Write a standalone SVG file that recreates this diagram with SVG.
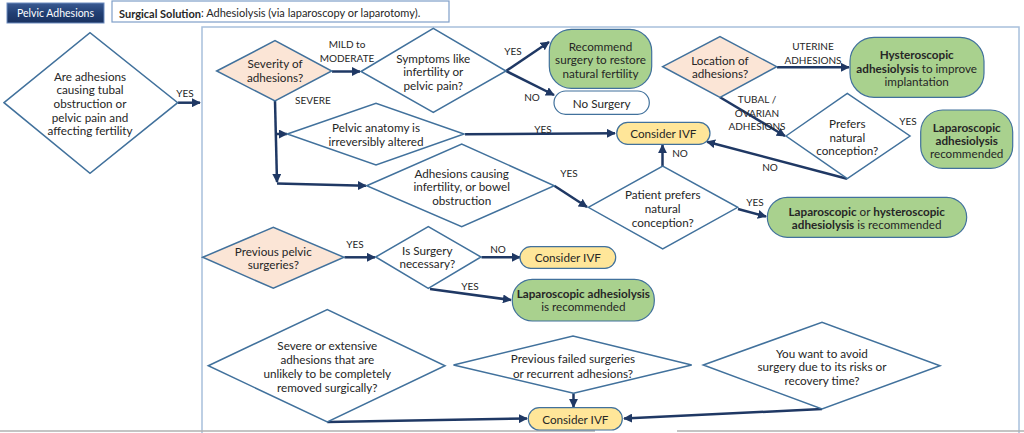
<svg xmlns="http://www.w3.org/2000/svg" width="1024" height="433" viewBox="0 0 1024 433">
<defs>
<marker id="ah" viewBox="0 0 10 10" refX="9" refY="5" markerWidth="3.6" markerHeight="3.6" orient="auto" markerUnits="strokeWidth">
<path d="M0,0 L10,5 L0,10 z" fill="#1f3864"/>
</marker>
<linearGradient id="hdr" x1="0" y1="0" x2="0" y2="1">
<stop offset="0" stop-color="#3a5a92"/>
<stop offset="0.5" stop-color="#223f73"/>
<stop offset="1" stop-color="#1a3260"/>
</linearGradient>
</defs>
<style>
text{font-family:Lato,"Liberation Sans",sans-serif;fill:#262626;}
.t{font-size:11.7px;text-anchor:middle;dominant-baseline:central;}
.l{font-size:10px;text-anchor:middle;dominant-baseline:central;}
.b{font-weight:bold;}
.dia{fill:#ffffff;stroke:#41719c;stroke-width:1.5;}
.pea{fill:#fbe5d6;stroke:#41719c;stroke-width:1.5;}
.grn{fill:#a9d18e;stroke:#41719c;stroke-width:1.2;}
.yel{fill:#ffe699;stroke:#41719c;stroke-width:1.2;}
.wht{fill:#ffffff;stroke:#41719c;stroke-width:1.2;}
.c{fill:none;stroke:#1f3864;stroke-width:2.5;marker-end:url(#ah);}
</style>
<rect width="1024" height="433" fill="#ffffff"/>

<!-- frame -->
<g id="frame">
<rect x="202" y="27" width="817" height="420" fill="none" stroke="#a8c0dc" stroke-width="1.5"/>
<line x1="0" y1="431" x2="595" y2="431" stroke="#b0b0b0" stroke-width="1.5"/>
<line x1="677" y1="431" x2="1024" y2="431" stroke="#b0b0b0" stroke-width="1.5"/>
</g>

<g id="title">
<rect x="7" y="3" width="97" height="20" fill="url(#hdr)" stroke="#6d8cc0" stroke-width="1"/>
<text x="55.5" y="12.5" class="t" style="fill:#ffffff;font-size:10.5px">Pelvic Adhesions</text>
</g>
<g id="surgical">
<rect x="112" y="1" width="337" height="21" fill="#ffffff" stroke="#7f9fc9" stroke-width="1.2"/>
<text x="119" y="12.5" style="font-size:11px;dominant-baseline:central"><tspan class="b">Surgical Solution</tspan>: Adhesiolysis (via laparoscopy or laparotomy).</text>
</g>

<g id="connectors">
<path class="c" d="M178,102.7 L200,102.7"/>
<path class="c" d="M332,71.5 L360,71.5"/>
<path class="c" d="M506,71 L549,42"/>
<path class="c" d="M506,71 L554,95"/>
<path class="c" d="M275,101 L277,182"/>
<path class="c" d="M277,183.5 L366,185.7"/>
<path class="c" d="M276.5,134 L287,134"/>
<path class="c" d="M465,134.3 L615,133.3"/>
<path class="c" d="M554.3,185.7 L587,207"/>
<path class="c" d="M662.5,166 L662.5,145"/>
<path class="c" d="M738,209 L766,216.5"/>
<path class="c" d="M777,67.3 L849,67.3"/>
<path class="c" d="M720,97.3 L785,136"/>
<path class="c" d="M847,178.7 L707,141.7"/>
<path class="c" d="M344.5,257.3 L375,257.3"/>
<path class="c" d="M481.5,257.3 L520,257.3"/>
<path class="c" d="M430,289 L511,300"/>
<path class="c" d="M573.5,393.3 L573.5,407"/>
<path class="c" d="M327.3,422 L527,418.5"/>
<path class="c" d="M822,409 L624,418.5"/>
</g>

<g id="labels">
<text class="l" x="185" y="93">YES</text>
<text class="l" x="347" y="44">MILD to</text>
<text class="l" x="347" y="58">MODERATE</text>
<text class="l" x="313" y="100">SEVERE</text>
<text class="l" x="513" y="51">YES</text>
<text class="l" x="532" y="97">NO</text>
<text class="l" x="543" y="129">YES</text>
<text class="l" x="569" y="173">YES</text>
<text class="l" x="680" y="153">NO</text>
<text class="l" x="755" y="202">YES</text>
<text class="l" x="813" y="46">UTERINE</text>
<text class="l" x="813" y="59.5">ADHESIONS</text>
<text class="l" x="757" y="99">TUBAL /</text>
<text class="l" x="757" y="112.5">OVARIAN</text>
<text class="l" x="757" y="126">ADHESIONS</text>
<text class="l" x="770" y="167">NO</text>
<text class="l" x="908" y="121">YES</text>
<text class="l" x="355" y="244">YES</text>
<text class="l" x="498" y="249">NO</text>
<text class="l" x="470" y="286">YES</text>
</g>

<g id="n-start">
<polygon class="dia" points="4,102.7 90,32.7 177.7,102.7 90,173.3"/>
<text class="t" x="90" y="75.7">Are adhesions</text>
<text class="t" x="90" y="89.3">causing tubal</text>
<text class="t" x="90" y="103">obstruction or</text>
<text class="t" x="90" y="116.7">pelvic pain and</text>
<text class="t" x="90" y="130.3">affecting fertility</text>
</g>

<g id="n-severity">
<polygon class="pea" points="216.7,71 275,40.7 331.7,71 275,101"/>
<text class="t" x="275" y="63.3">Severity of</text>
<text class="t" x="275" y="77">adhesions?</text>
</g>

<g id="n-symptoms">
<polygon class="dia" points="361,71.5 433.3,28.3 506,71 433.3,112.3"/>
<text class="t" x="433.3" y="57.7">Symptoms like</text>
<text class="t" x="433.3" y="71.3">infertility or</text>
<text class="t" x="433.3" y="85">pelvic pain?</text>
</g>

<g id="n-recommend">
<rect class="grn" x="549.3" y="29.3" width="102.4" height="59" rx="22" ry="22"/>
<text class="t" x="600.5" y="46">Recommend</text>
<text class="t" x="600.5" y="59.3">surgery to restore</text>
<text class="t" x="600.5" y="72.7">natural fertility</text>
</g>

<g id="n-nosurgery">
<rect class="wht" x="554" y="91" width="95.3" height="23.3" rx="11.6" ry="11.6"/>
<text class="t" x="601.7" y="102.7">No Surgery</text>
</g>

<g id="n-anatomy">
<polygon class="dia" points="287.3,134 376,103.3 464,134 376,165"/>
<text class="t" x="376" y="127.3">Pelvic anatomy is</text>
<text class="t" x="376" y="140.7">irreversibly altered</text>
</g>

<g id="n-ivf1">
<rect class="yel" x="616.7" y="122.3" width="93.3" height="22" rx="11" ry="11"/>
<text class="t" x="663.3" y="133.3">Consider IVF</text>
</g>

<g id="n-causing">
<polygon class="dia" points="366.7,185.7 461.7,144 554.3,185.7 461.7,226.7"/>
<text class="t" x="461.7" y="172.7">Adhesions causing</text>
<text class="t" x="461.7" y="186">infertility, or bowel</text>
<text class="t" x="461.7" y="199.7">obstruction</text>
</g>

<g id="n-patient">
<polygon class="dia" points="588.3,207.3 662.7,166 737.7,207.3 662.7,249"/>
<text class="t" x="662.7" y="194.3">Patient prefers</text>
<text class="t" x="662.7" y="208.3">natural</text>
<text class="t" x="662.7" y="222.3">conception?</text>
</g>

<g id="n-laphyst">
<rect class="grn" x="767.3" y="197.3" width="199.4" height="40" rx="20" ry="20"/>
<text class="t" x="866.7" y="211"><tspan class="b">Laparoscopic</tspan> or <tspan class="b">hysteroscopic</tspan></text>
<text class="t" x="866.7" y="224.3"><tspan class="b">adhesiolysis</tspan> is recommended</text>
</g>

<g id="n-location">
<polygon class="pea" points="662.7,66.7 720,36.7 776.7,66.7 720,97.3"/>
<text class="t" x="720" y="60">Location of</text>
<text class="t" x="720" y="73.3">adhesions?</text>
</g>

<g id="n-hystero">
<rect class="grn" x="850" y="37.3" width="134" height="60" rx="24" ry="24"/>
<text class="t" x="916.7" y="54"><tspan class="b">Hysteroscopic</tspan></text>
<text class="t" x="916.7" y="67.7"><tspan class="b">adhesiolysis</tspan> to improve</text>
<text class="t" x="916.7" y="81.3">implantation</text>
</g>

<g id="n-prefers">
<polygon class="dia" points="786,136 847.3,93.3 910,136 847.3,178.7"/>
<text class="t" x="847.3" y="122.7">Prefers</text>
<text class="t" x="847.3" y="136.5">natural</text>
<text class="t" x="847.3" y="150">conception?</text>
</g>

<g id="n-lapadh">
<rect class="grn" x="920.7" y="110" width="92" height="58.3" rx="22" ry="22"/>
<text class="t" x="966.7" y="126.7"><tspan class="b">Laparoscopic</tspan></text>
<text class="t" x="966.7" y="140"><tspan class="b">adhesiolysis</tspan></text>
<text class="t" x="966.7" y="153.3">recommended</text>
</g>

<g id="n-previous">
<polygon class="pea" points="202.7,257.3 273.3,227.3 344,257.3 273.3,288.3"/>
<text class="t" x="273.3" y="250.7">Previous pelvic</text>
<text class="t" x="273.3" y="264">surgeries?</text>
</g>

<g id="n-issurgery">
<polygon class="dia" points="375.7,257 428.3,226.7 481,257 428.3,288.3"/>
<text class="t" x="427.3" y="250">Is Surgery</text>
<text class="t" x="427.3" y="263.3">necessary?</text>
</g>

<g id="n-ivf2">
<rect class="yel" x="520" y="246.7" width="95.7" height="21.6" rx="10.8" ry="10.8"/>
<text class="t" x="567.8" y="257.3">Consider IVF</text>
</g>

<g id="n-laprec">
<rect class="grn" x="512.3" y="279.3" width="142" height="41.7" rx="20" ry="20"/>
<text class="t" x="583.3" y="292.7"><tspan class="b">Laparoscopic adhesiolysis</tspan></text>
<text class="t" x="583.3" y="306">is recommended</text>
</g>

<g id="n-severe">
<polygon class="dia" points="208.3,365.7 327.3,309.5 445,365.7 327.3,422"/>
<text class="t" x="327.3" y="345">Severe or extensive</text>
<text class="t" x="327.3" y="359">adhesions that are</text>
<text class="t" x="327.3" y="372.7">unlikely to be completely</text>
<text class="t" x="327.3" y="386.5">removed surgically?</text>
</g>

<g id="n-failed">
<polygon class="dia" points="453.5,365 573,336 691.7,365 573.5,393.3"/>
<text class="t" x="573" y="358.3">Previous failed surgeries</text>
<text class="t" x="573" y="372.7">or recurrent adhesions?</text>
</g>

<g id="n-avoid">
<polygon class="dia" points="703.3,365 822,322.3 940,365.7 822,409"/>
<text class="t" x="822" y="352.7">You want to avoid</text>
<text class="t" x="822" y="366.3">surgery due to its risks or</text>
<text class="t" x="822" y="380">recovery time?</text>
</g>

<g id="n-ivf3">
<rect class="yel" x="528.3" y="407.7" width="94" height="22.3" rx="11" ry="11"/>
<text class="t" x="575.3" y="418.8">Consider IVF</text>
</g>
</svg>
